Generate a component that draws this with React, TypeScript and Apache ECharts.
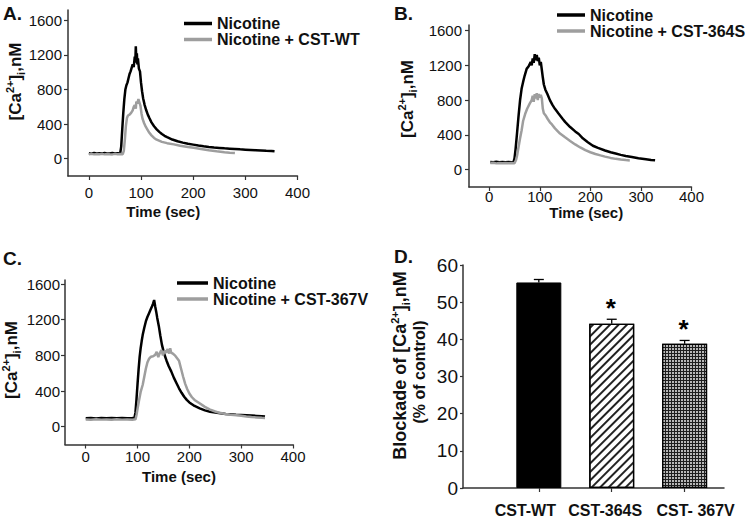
import React, { useEffect, useRef } from 'react';
import * as echarts from 'echarts';

const FONT = 'Arial, "Liberation Sans", Helvetica, sans-serif';
const AXIS = '#333';
const BLACK = '#000';
const GRAY = '#9e9e9e';

// ---------- Panel A ----------
const nicotineA: [number, number][] = [
  [0, 62], [5, 58], [10, 66], [15, 60], [20, 64], [25, 59], [30, 65], [35, 61], [40, 60], [45, 66], [50, 61], [55, 63], [60, 62],
  [62, 140], [64, 340], [66, 530], [68, 690], [70, 800], [72, 850], [74, 880], [76, 930], [78, 980], [80, 1010], [82, 1050],
  [84, 1090], [86, 1060], [88, 1180], [89, 1110], [90, 1300], [91, 1140], [92, 1220], [93, 1090], [94, 1160], [96, 1040],
  [98, 1010], [100, 880], [102, 780], [104, 700], [107, 620], [110, 560], [113, 510], [116, 470], [120, 420], [125, 375],
  [130, 340], [135, 310], [140, 285], [145, 265], [150, 250], [160, 222], [170, 202], [180, 186], [190, 173], [200, 163],
  [210, 153], [220, 144], [230, 136], [240, 130], [250, 125], [260, 120], [270, 116], [280, 112], [290, 108], [300, 105],
  [310, 102], [320, 99], [330, 96], [340, 92], [350, 89], [356, 86],
];
const cstWT: [number, number][] = [
  [0, 52], [5, 56], [10, 50], [15, 55], [20, 51], [25, 56], [30, 50], [35, 55], [40, 52], [45, 50], [50, 56], [55, 51], [60, 54], [65, 52],
  [67, 90], [69, 220], [71, 380], [73, 470], [75, 500], [78, 510], [81, 530], [84, 560], [86, 600], [88, 620], [90, 580],
  [91, 660], [93, 640], [95, 690], [97, 650], [99, 610], [101, 520], [103, 460], [106, 410], [109, 370], [112, 340],
  [116, 300], [120, 270], [125, 240], [130, 220], [140, 195], [150, 180], [163, 166], [175, 150], [190, 136], [201, 126],
  [215, 112], [230, 98], [245, 86], [260, 75], [270, 70], [280, 66],
];

// ---------- Panel B ----------
const nicotineB: [number, number][] = [
  [2, 88], [8, 85], [14, 90], [20, 86], [26, 89], [32, 85], [38, 88], [44, 86], [48, 87],
  [50, 130], [52, 230], [55, 420], [58, 620], [61, 800], [64, 930], [67, 1010], [70, 1080], [74, 1160], [78, 1190],
  [82, 1240], [84, 1200], [86, 1280], [88, 1230], [90, 1330], [92, 1260], [94, 1320], [96, 1250], [98, 1290], [100, 1200],
  [102, 1240], [104, 1150], [106, 1060], [108, 980], [111, 920], [115, 870], [120, 800], [125, 745], [130, 700], [137, 645],
  [145, 585], [150, 550], [160, 490], [170, 440], [177, 410], [185, 360], [195, 315], [205, 275], [215, 250], [229, 220],
  [240, 200], [250, 185], [260, 170], [270, 158], [282, 146], [295, 132], [310, 120], [320, 112], [328, 108],
];
const cst364S: [number, number][] = [
  [2, 75], [8, 78], [14, 72], [20, 76], [26, 73], [32, 77], [38, 74], [44, 76], [50, 74],
  [53, 110], [55, 160], [58, 260], [61, 360], [64, 450], [67, 560], [71, 640], [75, 700], [80, 760], [84, 800], [86, 850],
  [88, 780], [90, 870], [92, 820], [94, 880], [96, 800], [98, 870], [100, 830], [102, 860], [104, 820], [106, 700],
  [108, 650], [112, 620], [116, 580], [120, 545], [124, 520], [130, 475], [140, 415], [150, 372], [160, 330], [170, 290],
  [180, 255], [190, 224], [200, 200], [210, 180], [220, 164], [229, 150], [240, 135], [250, 124], [260, 116], [270, 110], [278, 106],
];

// ---------- Panel C ----------
const nicotineC: [number, number][] = [
  [0, 95], [10, 98], [20, 93], [30, 97], [40, 94], [50, 98], [60, 95], [70, 97], [80, 94], [90, 96], [94, 98],
  [96, 160], [98, 310], [100, 480], [102, 640], [104, 780], [106, 880], [108, 960], [110, 1030], [113, 1110], [116, 1180],
  [119, 1230], [122, 1270], [125, 1310], [128, 1350], [130, 1380], [132, 1420], [134, 1350], [136, 1290], [138, 1220],
  [141, 1130], [144, 1020], [147, 920], [150, 850], [153, 790], [156, 740], [160, 680], [165, 620], [170, 550], [175, 490],
  [180, 430], [185, 380], [190, 335], [195, 300], [200, 272], [210, 232], [220, 205], [230, 183], [240, 168], [250, 158],
  [260, 150], [270, 143], [280, 138], [290, 134], [300, 131], [310, 128], [320, 125], [330, 121], [340, 117], [346, 114],
];
const cst367V: [number, number][] = [
  [0, 80], [10, 78], [20, 82], [30, 79], [40, 81], [50, 78], [60, 82], [70, 79], [80, 81], [90, 78], [96, 82],
  [98, 130], [100, 200], [103, 300], [106, 390], [110, 470], [113, 560], [116, 650], [119, 720], [122, 760], [126, 785],
  [130, 790], [134, 805], [137, 840], [140, 780], [143, 825], [146, 860], [149, 800], [152, 850], [155, 830], [158, 870],
  [161, 820], [163, 880], [165, 830], [168, 820], [172, 800], [176, 770], [180, 740], [184, 650], [188, 560], [192, 480],
  [196, 420], [200, 372], [205, 330], [210, 300], [219, 265], [230, 222], [240, 192], [250, 170], [258, 155], [270, 142],
  [280, 134], [297, 124], [310, 114], [320, 108], [330, 104], [340, 100], [346, 98],
];

// ---------- Panel D ----------
const dCategories = ['CST-WT', 'CST-364S', 'CST- 367V'];
const dPositions = [1, 2, 3];
const dValues = [55.3, 44.2, 38.8];
const dErrors = [0.8, 1.2, 0.9];
const dSignificant = [false, true, true];

// ---------- Tick labels ----------
const timeTicks = [0, 100, 200, 300, 400];
const caTicks = [0, 400, 800, 1200, 1600];

const tickLabel = { fontSize: 15, color: '#111', fontFamily: FONT, formatter: (v: number) => String(v) };
const boldTitle = { fontSize: 15, fontWeight: 'bold' as const, color: '#111', fontFamily: FONT };

function timeAxis(gridIndex: number, labelMargin: number, nameGap: number, namePadding: number[]) {
  return {
    type: 'value', gridIndex, min: -40, max: 400,
    axisLine: { show: true, onZero: false, lineStyle: { color: AXIS, width: 1.5 } },
    axisTick: { show: true, length: 4, customValues: timeTicks, lineStyle: { color: AXIS, width: 1.2 } },
    axisLabel: { customValues: timeTicks, margin: labelMargin, ...tickLabel },
    splitLine: { show: false },
    name: 'Time (sec)', nameLocation: 'middle', nameGap,
    nameTextStyle: { ...boldTitle, padding: namePadding },
  };
}
function caAxis(gridIndex: number, max: number, labelMargin: number) {
  return {
    type: 'value', gridIndex, min: -200, max,
    axisLine: { show: true, onZero: false, lineStyle: { color: AXIS, width: 1.5 } },
    axisTick: { show: true, length: 4, customValues: caTicks, lineStyle: { color: AXIS, width: 1.2 } },
    axisLabel: { customValues: caTicks, margin: labelMargin, ...tickLabel },
    splitLine: { show: false },
  };
}
function legend(names: string[], left: number, top: number, lineHeight: number, itemWidth: number) {
  return {
    data: names, orient: 'vertical', left, top, itemWidth, itemHeight: 3.5, itemGap: 0,
    icon: 'rect', padding: 0, selectedMode: false,
    textStyle: { fontSize: 16, fontWeight: 'bold', color: '#111', fontFamily: FONT, lineHeight },
  };
}
function lineSeries(name: string, data: [number, number][], idx: number, color: string) {
  return {
    type: 'line', name, data, xAxisIndex: idx, yAxisIndex: idx,
    showSymbol: false, symbol: 'none', silent: true,
    lineStyle: { color, width: 2.5 }, itemStyle: { color },
  };
}

const caRich = {
  a: { fontSize: 17, fontWeight: 'bold', fontFamily: FONT, fill: '#111', lineHeight: 22 },
  sup: { fontSize: 11, fontWeight: 'bold', fontFamily: FONT, fill: '#111', verticalAlign: 'top', lineHeight: 11 },
  sub: { fontSize: 11, fontWeight: 'bold', fontFamily: FONT, fill: '#111', verticalAlign: 'bottom', lineHeight: 11 },
};
function yTitle(x: number, y: number, text: string, rich: any) {
  return {
    type: 'text', x, y, rotation: Math.PI / 2, silent: true,
    style: { text, rich, align: 'center', verticalAlign: 'middle', textAlign: 'center', textVerticalAlign: 'middle', fill: '#111' },
  };
}
function letter(x: number, y: number, text: string) {
  return {
    type: 'text', x, y, silent: true,
    style: { text, font: `bold 19px ${FONT}`, fill: '#111', align: 'left', verticalAlign: 'middle', textAlign: 'left', textVerticalAlign: 'middle' },
  };
}

const barStyles = [
  { color: '#000', borderColor: '#000', borderWidth: 1 },
  {
    color: '#fff', borderColor: '#000', borderWidth: 1.3,
    decal: { symbol: 'rect', symbolSize: 1, color: '#222', dashArrayX: [1, 0], dashArrayY: [1.2, 3.6], rotation: -Math.PI / 4 },
  },
  {
    color: '#1e1e1e', borderColor: '#000', borderWidth: 1.3,
    decal: { symbol: 'rect', symbolSize: 1, color: '#b8b8b8', dashArrayX: [2, 1], dashArrayY: [2, 1], rotation: 0 },
  },
];

const caText = '{a|[Ca}{sup|2+}{a|]}{sub|i}{a|,nM}';

const option: any = {
  animation: false,
  backgroundColor: '#fff',
  grid: [
    { left: 68, top: 10, width: 229.5, height: 166 },
    { left: 469, top: 25, width: 222.5, height: 162 },
    { left: 65, top: 280, width: 228, height: 164.5 },
    { left: 463, top: 265, width: 261, height: 223.5 },
  ],
  xAxis: [
    timeAxis(0, 9, 28, [0, 39, 0, 0]),
    timeAxis(1, 2, 18, [0, 0, 0, 12]),
    timeAxis(2, 4, 24, [0, 0, 0, 0]),
    {
      type: 'value', gridIndex: 3, min: -0.04, max: 3.54,
      axisLine: { show: true, onZero: false, lineStyle: { color: AXIS, width: 1.5 } },
      axisTick: { show: true, length: 4, customValues: dPositions, lineStyle: { color: AXIS, width: 1.2 } },
      axisLabel: {
        customValues: dPositions, margin: 14, fontSize: 16, fontWeight: 'bold', color: '#111', fontFamily: FONT,
        formatter: (v: number) => {
          const i = dPositions.indexOf(v);
          return i < 0 ? '' : `{c${i}|${dCategories[i]}}`;
        },
        rich: {
          c0: { fontSize: 16, fontWeight: 'bold', fontFamily: FONT, color: '#111', padding: [0, 27, 0, 0] },
          c1: { fontSize: 16, fontWeight: 'bold', fontFamily: FONT, color: '#111', padding: [0, 13, 0, 0] },
          c2: { fontSize: 16, fontWeight: 'bold', fontFamily: FONT, color: '#111', padding: [0, 0, 0, 22] },
        },
      },
      splitLine: { show: false },
    },
  ],
  yAxis: [
    caAxis(0, 1720, 6),
    caAxis(1, 1665, 7),
    caAxis(2, 1645, 5),
    {
      type: 'value', gridIndex: 3, min: 0, max: 60, interval: 10,
      axisLine: { show: true, onZero: false, lineStyle: { color: AXIS, width: 1.5 } },
      axisTick: { show: true, length: 3, lineStyle: { color: AXIS, width: 1.2 } },
      axisLabel: { margin: 5, fontSize: 19, color: '#111', fontFamily: FONT },
      splitLine: { show: false },
    },
  ],
  legend: [
    legend(['Nicotine', 'Nicotine + CST-WT'], 184, 15.5, 13, 28),
    legend(['Nicotine', 'Nicotine + CST-364S'], 557, 7, 12.5, 28),
    legend(['Nicotine', 'Nicotine + CST-367V'], 177, 275, 16, 31),
  ],
  series: [
    lineSeries('Nicotine', nicotineA, 0, BLACK),
    lineSeries('Nicotine + CST-WT', cstWT, 0, GRAY),
    lineSeries('Nicotine', nicotineB, 1, BLACK),
    lineSeries('Nicotine + CST-364S', cst364S, 1, GRAY),
    lineSeries('Nicotine', nicotineC, 2, BLACK),
    lineSeries('Nicotine + CST-367V', cst367V, 2, GRAY),
    {
      type: 'bar', xAxisIndex: 3, yAxisIndex: 3, barWidth: 45, silent: true,
      data: dPositions.map((p, i) => ({ value: [p, dValues[i]], itemStyle: barStyles[i] })),
    },
    {
      type: 'custom', xAxisIndex: 3, yAxisIndex: 3, silent: true, z: 5,
      encode: { x: 0, y: 1 },
      data: dPositions.map((p, i) => [p, dValues[i], dErrors[i], dSignificant[i] ? 1 : 0]),
      renderItem: (params: any, api: any) => {
        const x = api.value(0);
        const v = api.value(1);
        const e = api.value(2);
        const s = api.value(3);
        const b = api.coord([x, v]);
        const t = api.coord([x, v + e]);
        const children: any[] = [
          { type: 'line', shape: { x1: b[0], y1: b[1], x2: t[0], y2: t[1] }, style: { stroke: '#000', lineWidth: 1.3 } },
          { type: 'line', shape: { x1: t[0] - 5, y1: t[1], x2: t[0] + 5, y2: t[1] }, style: { stroke: '#000', lineWidth: 1.3 } },
        ];
        if (s) {
          children.push({
            type: 'text', x: t[0] - 1, y: t[1] - 11,
            style: { text: '*', font: `bold 26px ${FONT}`, fill: '#000', align: 'center', verticalAlign: 'middle', textAlign: 'center', textVerticalAlign: 'middle' },
          });
        }
        return { type: 'group', children };
      },
    },
  ],
  graphic: [
    letter(3, 13.7, 'A.'),
    letter(394, 13.3, 'B.'),
    letter(3, 258.5, 'C.'),
    letter(394, 256, 'D.'),
    yTitle(15, 81.5, caText, caRich),
    yTitle(407, 99, caText, caRich),
    yTitle(11.7, 360, caText, caRich),
    yTitle(400, 365.5, '{b|Blockade of }' + '{a|[Ca}{sup|2+}{a|]}{sub|i}{a|,nM}', {
      ...caRich,
      a: { ...caRich.a, fontSize: 18 },
      b: { ...caRich.a, fontSize: 18 },
    }),
    yTitle(419.5, 372, '{a|(% of control)}', { a: { ...caRich.a, fontSize: 16 } }),
  ],
};

export default function App() {
  const ref = useRef<HTMLDivElement>(null);
  useEffect(() => {
    const chart = echarts.init(ref.current as HTMLDivElement, null, { renderer: 'svg' });
    chart.setOption(option);
    return () => chart.dispose();
  }, []);
  return (
    <div
      ref={ref}
      style={{ position: 'fixed', left: 0, top: 0, width: 745, height: 518, background: '#fff' }}
    />
  );
}
